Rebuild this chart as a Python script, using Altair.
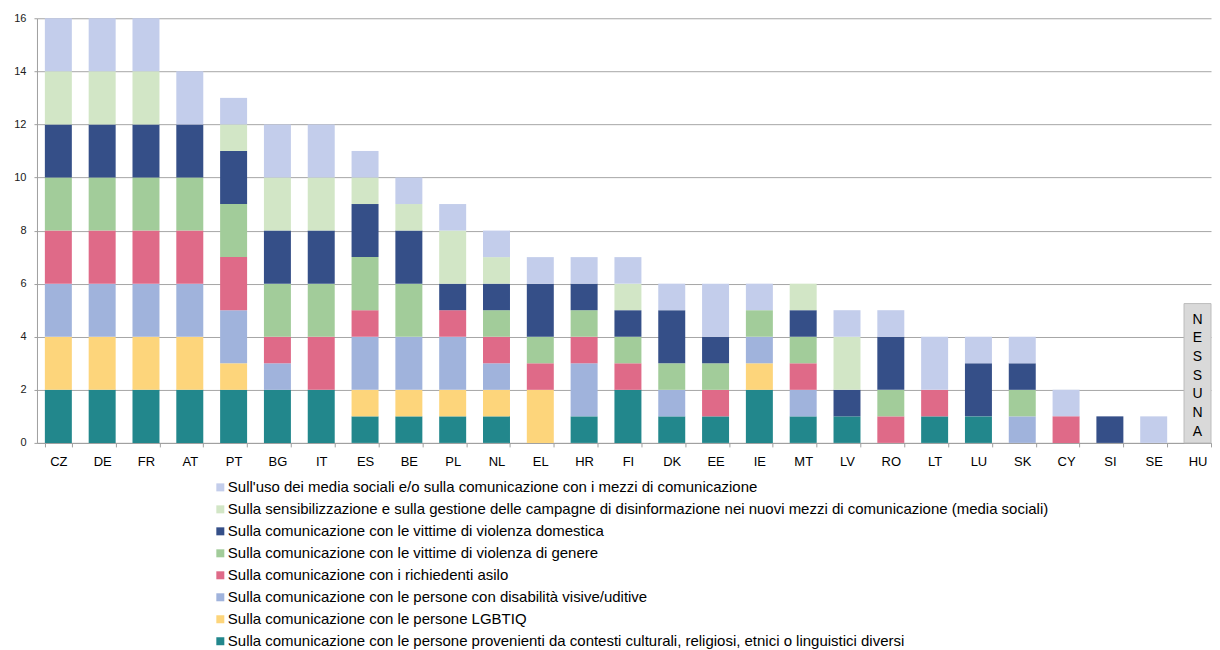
import altair as alt
import pandas as pd

countries = ["CZ", "DE", "FR", "AT", "PT", "BG", "IT", "ES", "BE", "PL", "NL", "EL", "HR",
             "FI", "DK", "EE", "IE", "MT", "LV", "RO", "LT", "LU", "SK", "CY", "SI", "SE", "HU"]

# series, bottom of stack first
s_culturali   = [2, 2, 2, 2, 2, 2, 2, 1, 1, 1, 1, 0, 1, 2, 1, 1, 2, 1, 1, 0, 1, 1, 0, 0, 0, 0, 0]
s_lgbtiq      = [2, 2, 2, 2, 1, 0, 0, 1, 1, 1, 1, 2, 0, 0, 0, 0, 1, 0, 0, 0, 0, 0, 0, 0, 0, 0, 0]
s_disabilita  = [2, 2, 2, 2, 2, 1, 0, 2, 2, 2, 1, 0, 2, 0, 1, 0, 1, 1, 0, 0, 0, 0, 1, 0, 0, 0, 0]
s_asilo       = [2, 2, 2, 2, 2, 1, 2, 1, 0, 1, 1, 1, 1, 1, 0, 1, 0, 1, 0, 1, 1, 0, 0, 1, 0, 0, 0]
s_genere      = [2, 2, 2, 2, 2, 2, 2, 2, 2, 0, 1, 1, 1, 1, 1, 1, 1, 1, 0, 1, 0, 0, 1, 0, 0, 0, 0]
s_domestica   = [2, 2, 2, 2, 2, 2, 2, 2, 2, 1, 1, 2, 1, 1, 2, 1, 0, 1, 1, 2, 0, 2, 1, 0, 1, 0, 0]
s_disinfo     = [2, 2, 2, 0, 1, 2, 2, 1, 1, 2, 1, 0, 0, 1, 0, 0, 0, 1, 2, 0, 0, 0, 0, 0, 0, 0, 0]
s_media       = [2, 2, 2, 2, 1, 2, 2, 1, 1, 1, 1, 1, 1, 1, 1, 2, 1, 0, 1, 1, 2, 1, 1, 1, 0, 1, 0]

series_names = [
    "Sulla comunicazione con le persone provenienti da contesti culturali, religiosi, etnici o linguistici diversi",
    "Sulla comunicazione con le persone LGBTIQ",
    "Sulla comunicazione con le persone con disabilità visive/uditive",
    "Sulla comunicazione con i richiedenti asilo",
    "Sulla comunicazione con le vittime di violenza di genere",
    "Sulla comunicazione con le vittime di violenza domestica",
    "Sulla sensibilizzazione e sulla gestione delle campagne di disinformazione nei nuovi mezzi di comunicazione (media sociali)",
    "Sull'uso dei media sociali e/o sulla comunicazione con i mezzi di comunicazione",
]
series_colors = ["#22878C", "#FDD57B", "#A0B3DC", "#DF6A88", "#A2CC9A", "#354F88", "#D2E6C6", "#C3CDEB"]
series_values = [s_culturali, s_lgbtiq, s_disabilita, s_asilo, s_genere, s_domestica, s_disinfo, s_media]

y_ticks = [0, 2, 4, 6, 8, 10, 12, 14, 16]

note_country = ["HU"]
note_label = ["NESSUNA"]
note_height = [5.25]

rows = []
for i, (name, vals) in enumerate(zip(series_names, series_values)):
    for c, v in zip(countries, vals):
        if v > 0:
            rows.append({"paese": c, "serie": name, "valore": v, "ordine": i})
df = pd.DataFrame(rows)

legend_order = list(reversed(series_names))
legend_colors = list(reversed(series_colors))

x_enc = alt.X("paese:N", sort=countries,
              scale=alt.Scale(domain=countries, paddingInner=0.3842, paddingOuter=0.09, align=1),
              axis=alt.Axis(title=None, labelAngle=0, tickBand="extent", labelFontSize=13,
                            labelColor="#000000", domainColor="#A0A0A0", tickColor="#A0A0A0",
                            tickSize=4, labelPadding=9))

bars = alt.Chart(df).mark_bar().encode(
    x=x_enc,
    y=alt.Y("sum(valore):Q", stack="zero",
            scale=alt.Scale(domain=[0, 16], nice=False),
            axis=alt.Axis(title=None, values=y_ticks, grid=True, gridColor="#A6A6A6",
                          domainColor="#A0A0A0", tickColor="#A0A0A0", tickSize=3,
                          labelFontSize=11, labelColor="#202020", labelPadding=8)),
    color=alt.Color("serie:N", sort=legend_order,
                    scale=alt.Scale(domain=legend_order, range=legend_colors),
                    legend=alt.Legend(title=None, orient="none", legendX=176, legendY=462,
                                      direction="vertical", columns=1, symbolType="square",
                                      symbolSize=64, symbolStrokeWidth=0, labelFontSize=15,
                                      labelColor="#000000", labelLimit=1000, rowPadding=6,
                                      labelOffset=0)),
    order=alt.Order("ordine:Q", sort="ascending"),
)

note_df = pd.DataFrame({"paese": note_country, "testo": ["\n".join(t) for t in note_label],
                        "alto": note_height})

note_box = alt.Chart(note_df).mark_bar(fill="#D9D9D9", stroke="#BDBDBD", strokeWidth=1).encode(
    x=alt.X("paese:N", sort=countries), y=alt.Y("alto:Q"), y2=alt.datum(0))

note_text = alt.Chart(note_df).mark_text(fontSize=14, lineBreak="\n", lineHeight=18.7,
                                         baseline="top", dy=9, color="#000000").encode(
    x=alt.X("paese:N", sort=countries), y=alt.Y("alto:Q"), text="testo:N")

chart = alt.layer(bars, note_box, note_text).properties(
    width=1175, height=425,
    padding={"top": 4, "left": 5, "right": 0, "bottom": 0},
).configure(font="Liberation Sans").configure_view(stroke=None)

chart.save("out.html", embed_options={"renderer": "svg", "actions": False})
